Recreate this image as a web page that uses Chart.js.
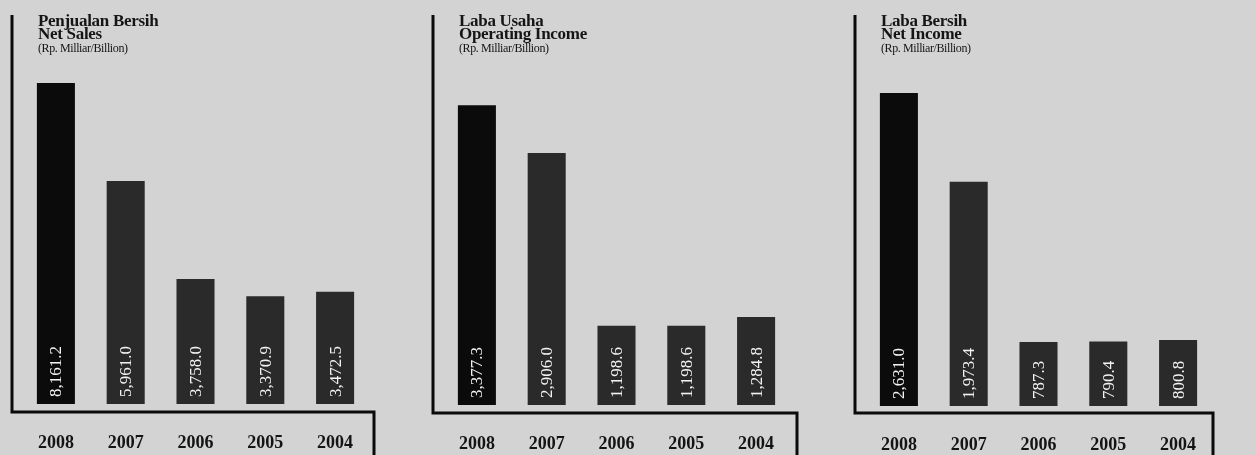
<!DOCTYPE html>
<html>
<head>
<meta charset="utf-8">
<script src="https://cdn.jsdelivr.net/npm/chart.js@4"></script>
<style>
  html, body { margin: 0; padding: 0; }
  body { width: 1256px; height: 455px; background: #d3d3d3; position: relative; overflow: hidden; }
  .panel { position: absolute; top: 0; width: 420px; height: 455px; }
  .panel canvas { position: absolute; left: 0; top: 0; }
  .title {
    position: absolute; left: 38px; top: 14px;
    font-family: "Liberation Serif", serif; font-weight: bold; font-size: 17px;
    line-height: 13px; letter-spacing: -0.3px; color: #151515;
  }
  .title small {
    display: block; margin-top: 3px; font-size: 12px; line-height: 11px;
    letter-spacing: -0.4px; font-weight: normal;
  }
</style>
</head>
<body>
<div class="panel" style="left:0px"><canvas id="c1" width="420" height="455"></canvas>
  <div class="title">Penjualan Bersih<br>Net Sales<small>(Rp. Milliar/Billion)</small></div></div>
<div class="panel" style="left:421px"><canvas id="c2" width="420" height="455"></canvas>
  <div class="title">Laba Usaha<br>Operating Income<small>(Rp. Milliar/Billion)</small></div></div>
<div class="panel" style="left:843px"><canvas id="c3" width="420" height="455"></canvas>
  <div class="title">Laba Bersih<br>Net Income<small>(Rp. Milliar/Billion)</small></div></div>
<script>
const years = ['2008', '2007', '2006', '2005', '2004'];
const netSales = [8161.2, 5961.0, 3758.0, 3370.9, 3472.5];
const operatingIncome = [3377.3, 2906.0, 1198.6, 1198.6, 1284.8];
const netIncome = [2631.0, 1973.4, 787.3, 790.4, 800.8];

// value ranges of the y axis (the bars do not start at zero in the original)
const netSalesRange = [949, 8678];
const operatingRange = [415, 3824];
const netIncomeRange = [313, 2875];

const fmt = v => v.toLocaleString('en-US', { minimumFractionDigits: 1, maximumFractionDigits: 1 });

// black frame: vertical line left, base line, short drop on the right
const framePlugin = {
  id: 'frame',
  beforeDraw(chart, args, opts) {
    const ctx = chart.ctx;
    ctx.save();
    ctx.strokeStyle = '#0a0a0a';
    ctx.lineWidth = 3;
    ctx.beginPath();
    ctx.moveTo(12, 15);
    ctx.lineTo(12, opts.y);
    ctx.lineTo(opts.right, opts.y);
    ctx.lineTo(opts.right, 455);
    ctx.stroke();
    ctx.restore();
  }
};

// rotated white numbers at the foot of each bar
const valuePlugin = {
  id: 'values',
  afterDatasetsDraw(chart) {
    const ctx = chart.ctx;
    const meta = chart.getDatasetMeta(0);
    const data = chart.data.datasets[0].data;
    const bottom = chart.chartArea.bottom;
    ctx.save();
    ctx.fillStyle = '#f2f2f2';
    ctx.font = '17px "Liberation Serif", serif';
    ctx.textAlign = 'left';
    ctx.textBaseline = 'middle';
    meta.data.forEach((bar, i) => {
      ctx.save();
      ctx.translate(bar.x, bottom - 7);
      ctx.rotate(-Math.PI / 2);
      ctx.fillText(fmt(data[i]), 0, 1);
      ctx.restore();
    });
    ctx.restore();
  }
};

function makeChart(id, values, range, baseY, frameY, frameRight) {
  new Chart(document.getElementById(id), {
    type: 'bar',
    data: {
      labels: years,
      datasets: [{
        data: values,
        backgroundColor: ['#0b0b0b', '#2a2a2a', '#2a2a2a', '#2a2a2a', '#2a2a2a'],
        borderWidth: 0,
        barPercentage: 0.545,
        categoryPercentage: 1
      }]
    },
    options: {
      responsive: false,
      animation: false,
      layout: { padding: { left: 21, right: 50, top: 60, bottom: 0 } },
      plugins: {
        legend: { display: false },
        tooltip: { enabled: false },
        frame: { y: frameY, right: frameRight }
      },
      scales: {
        x: {
          grid: { display: false, drawTicks: false },
          border: { display: false },
          ticks: {
            color: '#141414',
            padding: 29,
            font: { family: '"Liberation Serif", serif', weight: 'bold', size: 18 }
          },
          afterFit(scale) { scale.height = 455 - baseY; }
        },
        y: {
          display: false,
          min: range[0],
          max: range[1]
        }
      }
    },
    plugins: [framePlugin, valuePlugin]
  });
}

makeChart('c1', netSales, netSalesRange, 404, 412, 374);
makeChart('c2', operatingIncome, operatingRange, 405, 413, 376);
makeChart('c3', netIncome, netIncomeRange, 406, 413, 370);
</script>
</body>
</html>
